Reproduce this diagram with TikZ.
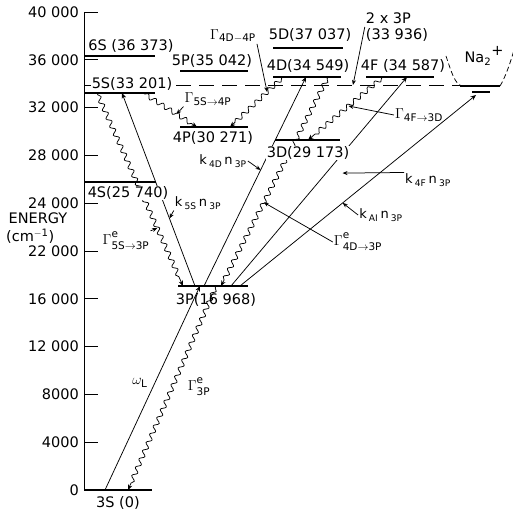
\documentclass[tikz,border=0pt]{standalone}
\usepackage{amsmath}
\usepackage{fontspec}
\setmainfont{DejaVu Sans}
\usetikzlibrary{arrows.meta,calc,decorations.pathmorphing}
\tikzset{
  lvl/.style  ={line width=1.7pt},
  thinl/.style={line width=0.75pt},
  trans/.style={thinl,-{Stealth[length=5.5pt,width=4.5pt]}},
  wave/.style ={trans,decorate,decoration={snake,amplitude=2.3pt,segment length=9pt,pre length=2pt,post length=6pt}},
  lead/.style ={thinl,-{Stealth[length=5pt,width=4pt]}},
  lbl/.style  ={font=\fontsize{14.5}{16}\selectfont,inner sep=1pt},
  tag/.style  ={lbl,fill=white},
  rate/.style ={font=\fontsize{13}{15}\selectfont,inner sep=1pt},
  gam/.style  ={font=\fontsize{15}{17}\selectfont,inner sep=1pt},
}
\newcommand{\kn}[1]{k\,$_{\text{#1}}$\,n\,$_{\text{3P}}$}
\newcommand{\Ge}[1]{$\Gamma^{\text{\raisebox{1.5pt}{e}}}_{\text{\raisebox{-1.5pt}{#1}}}$}

\begin{document}
\begin{tikzpicture}[x=1pt,y=-1pt]
  \useasboundingbox (0,0) rectangle (513,510);
  % energy axis: 0 -> y=490, 40 000 -> y=12 (\v in thousands)
  \draw[thinl] (84,12) -- (84,490);
  \foreach \v/\t in {0/0,4/4000,8/8000,12/12 000,16/16 000,20/22 000,
                     24/24 000,28/28 000,32/32 000,36/36 000,40/40 000}{
    \draw[thinl] (84,{490-11.95*\v}) -- ++(14,0);
    \node[lbl,anchor=east] (tk\v) at (80,{490-11.95*\v}) {\t};
  }
  \node[lbl,align=left,anchor=west] (ylab) at (5,228) {\,ENERGY\\[2.5pt](cm\textsuperscript{$-$1})};

  % 2 x 3P threshold
  \draw[thinl,dash pattern=on 15pt off 8pt] (84,85) -- (460,85);

  % levels
  \draw[lvl] (84,490) -- (152,490);
  \draw[lvl] (178,286) -- (248,286);
  \draw[lvl] (84,182) -- (156,182);
  \draw[lvl] (84,93) -- (155,93);
  \draw[lvl] (84,56) -- (155,56);
  \draw[lvl] (180,71) -- (248,71);
  \draw[lvl] (180,127) -- (248,127);
  \draw[lvl] (273,48) -- (343,48);
  \draw[lvl] (273,77) -- (341,77);
  \draw[lvl] (275,140) -- (340,140);
  \draw[lvl] (366,77) -- (434,77);

  % Na2+ well
  \draw[thinl,dash pattern=on 5pt off 3pt] (446,56) .. controls (452,74) and (455,84) .. (462,86);
  \draw[thinl,dash pattern=on 5pt off 3pt] (500,86) .. controls (505,78) and (510,64) .. (514,50);
  \draw[line width=2.4pt] (460,86) -- (500,86);
  \draw[line width=2pt] (472,92) -- (490,92);

  % end points on the levels
  \coordinate (a3S) at (105,490);
  \coordinate (b3S) at (128,490);
  \coordinate (a3P) at (183,286);
  \coordinate (b3P) at (195,286);
  \coordinate (c3P) at (200,286);
  \coordinate (d3P) at (204,286);
  \coordinate (e3P) at (216,286);
  \coordinate (f3P) at (221,286);
  \coordinate (g3P) at (231,286);
  \coordinate (h3P) at (240,286);
  \coordinate (a5S) at (97,93);
  \coordinate (b5S) at (122,93);
  \coordinate (c5S) at (143,93);
  \coordinate (a4P) at (197,127);
  \coordinate (b4P) at (230,127);
  \coordinate (a4D) at (283,77);
  \coordinate (b4D) at (306,77);
  \coordinate (c4D) at (328,77);
  \coordinate (a3D) at (308,140);
  \coordinate (a4F) at (383,77);
  \coordinate (b4F) at (407,77);
  \coordinate (ion) at (476,95);
  \coordinate (pair) at (353,85);

  % transitions
  \draw[trans] (a3S) -- (c3P);
  \draw[wave] (e3P) -- (b3S);
  \draw[trans] (b3P) -- (b5S);
  \draw[wave] (a5S) -- (a3P);
  \draw[wave] (c5S) -- (a4P);
  \draw[wave] (a4D) -- (b4P);
  \draw[trans] (d3P) -- (b4D);
  \draw[wave] (c4D) -- (f3P);
  \draw[wave] (a4F) -- (a3D);
  \draw[trans] (g3P) -- (b4F);
  \draw[trans] (h3P) -- (ion);

  % level labels
  \node[lbl] (n3S) at (118,503) {3S (0)};
  \node[lbl] (n3P) at (216,300) {3P(16 968)};
  \node[tag] (n4S) at (128,193) {4S(25 740)};
  \node[tag] (n5S) at (132,84) {5S(33 201)};
  \node[lbl] (n6S) at (131,46) {6S (36 373)};
  \node[lbl] (n5P) at (212,61) {5P(35 042)};
  \node[lbl] (n4P) at (213,138) {4P(30 271)};
  \node[lbl] (n5D) at (310,35) {5D(37 037)};
  \node[lbl] (n4D) at (308,66) {4D(34 549)};
  \node[tag] (n3D) at (308,153) {3D(29 173)};
  \node[lbl] (n4F) at (403,66) {4F (34 587)};
  \node[lbl,align=left] (twoP) at (397,27) {2 x 3P\\(33 936)};
  \node[lbl] (na) at (484,56) {Na$_{\text{2}}$\raisebox{7pt}{+}};

  % rate labels
  \node[gam] (wL) at (140,383) {$\omega_{\text{L}}$};
  \node[gam] (g3P) at (199,387) {\Ge{3P}};
  \node[rate] (k5S) at (198,203) {\kn{5S}};
  \node[gam] (g5S3P) at (126,241) {\Ge{5S$\to$3P}};
  \node[gam] (g5S4P) at (208,99) {$\Gamma_{\text{5S}\to\text{4P}}$};
  \node[gam] (g4D4P) at (233,36) {$\Gamma_{\text{4D}-\text{4P}}$};
  \node[rate] (k4D) at (223,161) {\kn{4D}};
  \node[gam] (g4D3P) at (358,242) {\Ge{4D$\to$3P}};
  \node[gam] (g4F3D) at (419,115) {$\Gamma_{\text{4F}\to\text{3D}}$};
  \node[rate] (k4F) at (428,180) {\kn{4F}};
  \node[rate] (kAI) at (381,215) {\kn{AI}};

  % pointers
  \draw[lead] (twoP.west) -- (pair);
  \draw[lead] (g4D4P.south east) -- ($(a4D)!0.3!(b4P)$);
  \draw[lead] (g5S4P.south west) -- ($(c5S)!0.62!(a4P)$);
  \draw[lead] (k5S.south west) -- ($(b3P)!0.35!(b5S)$);
  \draw[lead] (g5S3P.north east) -- ($(a5S)!0.7!(a3P)$);
  \draw[lead] (k4D.east) -- ($(d3P)!0.555!(b4D)$);
  \draw[lead] (g4D3P.west) -- ($(c4D)!0.6!(f3P)$);
  \draw[lead] (g4F3D.west) -- ($(a4F)!0.46!(a3D)$);
  \draw[lead] (k4F.north west) -- ($(g3P)!0.69!(b4F)$);
  \draw[lead] (kAI.west) -- ($(h3P)!0.435!(ion)$);
\end{tikzpicture}
\end{document}
